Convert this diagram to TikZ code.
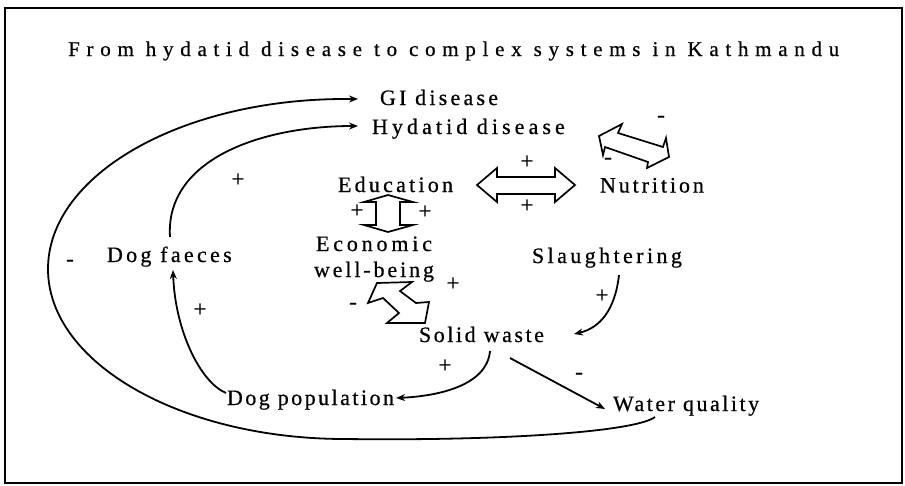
\documentclass[tikz,border=0pt]{standalone}
\usepackage{fontspec}
\setmainfont{Liberation Serif}[FakeBold=0.6]
\usetikzlibrary{arrows.meta,calc}

\begin{document}
\begin{tikzpicture}[x=1pt,y=-1pt,
  lbl/.style={inner sep=0pt, outer sep=0pt, anchor=base west,
    font=\fontsize{22}{26}\selectfont\addfontfeature{LetterSpace=#1}},
  lbl/.default=13,
  sign/.style={inner sep=0pt, font=\fontsize{23}{26}\selectfont},
  link/.style={line width=1.8pt, -{Stealth[length=9pt,width=7pt]}},
  block/.style={draw, line width=1.7pt, fill=white, line join=miter},
]
\useasboundingbox (0,0) rectangle (905,485);
\draw[line width=2.2pt] (5,8) rectangle (902,483);

% title
\node[inner sep=0pt, anchor=base west,
  font=\fontsize{21}{24}\selectfont\addfontfeature{LetterSpace=32}]
  (title) at (68,56) {From hydatid disease to complex systems in Kathmandu};

% factors
\node[lbl=14.7] (gi)  at (380,105) {GI disease};
\node[lbl=18.5] (hyd) at (372,134) {Hydatid disease};
\node[lbl=14.7] (edu) at (338,192) {Education};
\node[lbl=13.2] (nut) at (600,192.5) {Nutrition};
\node[inner sep=0pt, outer sep=0pt, anchor=base, align=center,
  font=\fontsize{22}{26}\selectfont\addfontfeature{LetterSpace=13.1}]
  (eco) at (374,277) {{\addfontfeature{LetterSpace=17.4}Economic}\\well-being};
\node[lbl=15.5] (sla) at (532,263) {Slaughtering};
\node[lbl=15]   (df)  at (107,262) {Dog faeces};
\node[lbl=11.6] (sw)  at (419,342) {Solid waste};
\node[lbl=11.2] (dp)  at (227,405) {Dog population};
\node[lbl=11.4] (wq)  at (613,411) {Water quality};

% causal links
\draw[link] ($(df.base west)+(63,-25)$) .. controls (165,160) and (260,126) .. ($(hyd.base west)+(-14,-8)$);
\draw[link] ($(wq.base west)+(42,6)$) .. controls (635,432) and (500,441) .. (345,439)
   .. controls (181,439) and (48,362.9) .. (48,269)
   .. controls (48,175.1) and (181,99) .. (345,99) -- ($(gi.base west)+(-22,-6)$);
\draw[link] ($(dp.base west)+(-1,-12)$) .. controls (200,382) and (175,330) .. ($(df.base west)+(66,8)$);
\draw[link] ($(sw.base west)+(71,9)$) .. controls (487,385) and (440,396) .. ($(dp.base east)+(2,-7)$);
\draw[link] ($(sw.base west)+(91,16)$) -- ($(wq.base west)+(-8,-2)$);
\draw[link] ($(sla.base west)+(87,12)$) .. controls (615,310) and (600,328) .. ($(sw.base west)+(155,-8)$);

% two-way block arrows
\draw[block] (477,185) -- (497,168) -- (497,177) -- (555,177) -- (555,168) -- (575,185)
  -- (555,202) -- (555,194) -- (497,194) -- (497,202) -- cycle;
\draw[block] (388,195) -- (413,202) -- (400,202) -- (400,225) -- (413,225) -- (388,232)
  -- (364,225) -- (376,225) -- (376,202) -- (364,202) -- cycle;
\draw[block] (599,136) -- (622,124) -- (618,133) -- (663,147) -- (666,138) -- (669,157)
  -- (647,168) -- (648,162) -- (605,147) -- (603,155) -- cycle;
\draw[block] (377,283) -- (412,282) -- (400,291) -- (416,303) -- (429,302) -- (425,323)
  -- (387,323) -- (399,313) -- (383,298) -- (368,303) -- cycle;

% polarity signs
\node[sign] (s1)  at (238,180) {+};
\node[sign] (s2)  at (70,263)  {-};
\node[sign] (s3)  at (200,310) {+};
\node[sign] (s4)  at (527,162) {+};
\node[sign] (s5)  at (527,206) {+};
\node[sign] (s6)  at (661,119) {-};
\node[sign] (s7)  at (608,161) {-};
\node[sign] (s8)  at (357,211) {+};
\node[sign] (s9)  at (425,212) {+};
\node[sign] (s10) at (453,284) {+};
\node[sign] (s11) at (353,306) {-};
\node[sign] (s12) at (602,296) {+};
\node[sign] (s13) at (445,366) {+};
\node[sign] (s14) at (579,376) {-};
\end{tikzpicture}
\end{document}
